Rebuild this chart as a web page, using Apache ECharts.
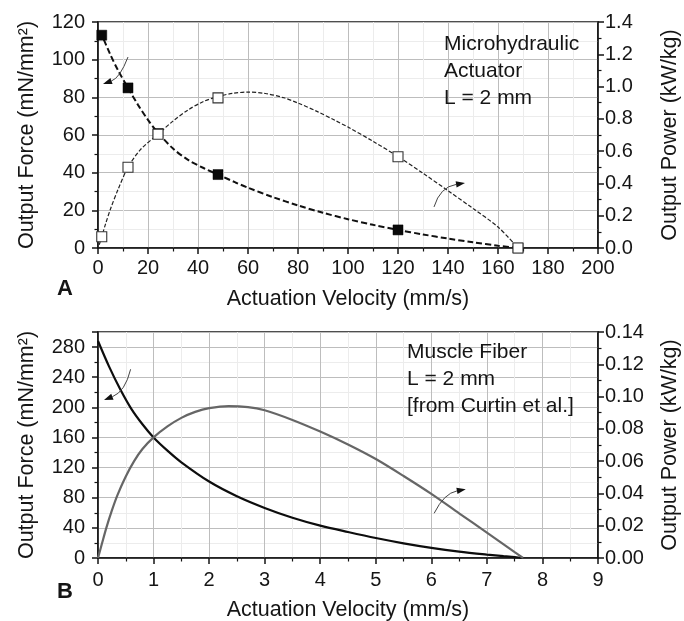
<!DOCTYPE html>
<html><head><meta charset="utf-8">
<script src="https://cdn.jsdelivr.net/npm/echarts@6/dist/echarts.min.js"></script>
<style>html,body{margin:0;padding:0;background:#fff}#c{width:684px;height:621px}</style>
</head><body><div id="c"></div>
<script>
// ---------- Panel A: microhydraulic actuator ----------
const velA = [1.5, 12, 24, 48, 120, 168];                 // mm/s (measured points)
const forceA = [113, 85, 60.8, 39, 9.6, 0];               // mN/mm^2
const powerA = [0.07, 0.50, 0.705, 0.93, 0.565, 0];       // kW/kg
// fitted curves
const fitVelForceA = [1, 1.5, 5, 8, 12, 16, 20, 24, 30, 36, 42, 48, 55, 60, 70, 80, 90, 100, 110, 120, 130, 140, 150, 160, 168];
const fitForceA    = [115, 113.3, 102.5, 94.4, 85, 76, 68, 61.2, 52.8, 46.8, 42.6, 39, 34.8, 32, 27, 22.6, 18.7, 15.3, 12.3, 9.6, 7.2, 5.0, 3.0, 1.2, 0];
const fitVelPowerA = [0.5, 1.5, 3, 5, 8, 12, 17, 24, 30, 36, 42, 48, 54, 60, 67, 74, 80, 88, 95, 100, 110, 120, 130, 140, 150, 160, 168];
const fitPowerA    = [0.02, 0.07, 0.148, 0.242, 0.362, 0.50, 0.61, 0.705, 0.786, 0.855, 0.906, 0.939, 0.958, 0.966, 0.957, 0.932, 0.898, 0.843, 0.789, 0.749, 0.661, 0.566, 0.463, 0.355, 0.245, 0.13, 0];
// ---------- Panel B: muscle fiber ----------
const velForceB = [0, 0.2, 0.4, 0.6, 0.8, 1, 1.25, 1.5, 2, 2.5, 3, 3.5, 4, 4.5, 5, 5.5, 6, 6.5, 7, 7.3, 7.5, 7.65];
const forceB    = [288, 254, 224, 198, 177.5, 160, 142.5, 127, 101.5, 82, 66.5, 53.5, 43, 34.5, 26.5, 19.5, 13.5, 8.5, 4.5, 2.4, 1.1, 0];
const velPowerB = [0, 0.07, 0.15, 0.25, 0.35, 0.5, 0.65, 0.8, 1, 1.25, 1.5, 1.75, 2, 2.35, 2.7, 3, 3.5, 4, 4.5, 5, 5.5, 6, 6.5, 7, 7.5, 7.65];
const powerB    = [0, 0.0088, 0.0187, 0.0295, 0.039, 0.0505, 0.060, 0.0675, 0.0747, 0.0815, 0.0868, 0.0905, 0.0928, 0.0941, 0.0935, 0.0915, 0.0855, 0.0783, 0.0703, 0.0613, 0.0508, 0.0397, 0.0277, 0.0157, 0.0036, 0];
// ticks
const xTicksA = {min: 0, max: 200, interval: 20};
const yLeftA  = {min: 0, max: 120, interval: 20};
const yRightA = {min: 0, max: 1.4, interval: 0.2};
const xTicksB = {min: 0, max: 9, interval: 1};
const yLeftB  = {min: 0, max: 300, interval: 40};
const yRightB = {min: 0, max: 0.14, interval: 0.02};
const labelsA = ['Microhydraulic', 'Actuator', 'L = 2 mm'];
const labelsB = ['Muscle Fiber', 'L = 2 mm', '[from Curtin et al.]'];

const zip = (a, b) => a.map((v, i) => [v, b[i]]);
const FONT = 'Liberation Sans, Arial, sans-serif';
const ink = '#151515';

function axisCommon(extra) {
  return Object.assign({
    axisLine: {show: true, onZero: false, lineStyle: {color: ink, width: 1.6}},
    axisTick: {show: true, inside: false, length: 6, lineStyle: {color: ink, width: 1.5}},
    minorTick: {show: true, splitNumber: 2, length: 3.5, lineStyle: {color: ink, width: 1.2}},
    axisLabel: {color: ink, fontSize: 20, fontFamily: FONT},
    nameTextStyle: {color: ink, fontSize: 21.5, fontFamily: FONT},
    nameLocation: 'middle'
  }, extra);
}
const gridLines = {
  splitLine: {show: true, lineStyle: {color: '#bdbdbd', width: 1}},
  minorSplitLine: {show: true, lineStyle: {color: '#ececec', width: 1}}
};
const gridBase = {left: 98, width: 500, height: 226, show: true, borderColor: ink, borderWidth: 1.6,
  backgroundColor: 'transparent', containLabel: false, outerBoundsMode: 'none'};

const option = {
  animation: false,
  backgroundColor: '#fff',
  grid: [
    Object.assign({top: 22}, gridBase),
    Object.assign({top: 332}, gridBase)
  ],
  xAxis: [
    axisCommon(Object.assign({type: 'value', gridIndex: 0, name: 'Actuation Velocity (mm/s)', nameGap: 40,
      axisLabel: {color: ink, fontSize: 20, fontFamily: FONT, margin: 10}}, xTicksA, gridLines)),
    axisCommon(Object.assign({type: 'value', gridIndex: 1, name: 'Actuation Velocity (mm/s)', nameGap: 41,
      axisLabel: {color: ink, fontSize: 20, fontFamily: FONT, margin: 12}}, xTicksB, gridLines))
  ],
  yAxis: [
    axisCommon(Object.assign({type: 'value', gridIndex: 0, position: 'left', name: 'Output Force (mN/mm²)', nameGap: 60, nameRotate: 90,
      axisLabel: {color: ink, fontSize: 20, fontFamily: FONT, margin: 13}}, yLeftA, gridLines)),
    axisCommon(Object.assign({type: 'value', gridIndex: 0, position: 'right', name: 'Output Power (kW/kg)', nameGap: 61, nameRotate: 90,
      splitLine: {show: false}, minorSplitLine: {show: false},
      axisLabel: {color: ink, fontSize: 20, fontFamily: FONT, margin: 7, formatter: v => v.toFixed(1)}}, yRightA)),
    axisCommon(Object.assign({type: 'value', gridIndex: 1, position: 'left', name: 'Output Force (mN/mm²)', nameGap: 60, nameRotate: 90,
      axisLabel: {color: ink, fontSize: 20, fontFamily: FONT, margin: 13, showMaxLabel: false,
        formatter: v => (v > 290 ? '' : String(v))}}, yLeftB, gridLines)),
    axisCommon(Object.assign({type: 'value', gridIndex: 1, position: 'right', name: 'Output Power (kW/kg)', nameGap: 61, nameRotate: 90,
      splitLine: {show: false}, minorSplitLine: {show: false},
      axisLabel: {color: ink, fontSize: 20, fontFamily: FONT, margin: 7, formatter: v => v.toFixed(2)}}, yRightB))
  ],
  series: [
    {type: 'line', xAxisIndex: 0, yAxisIndex: 0, data: zip(fitVelForceA, fitForceA), showSymbol: false, smooth: 0.3,
      lineStyle: {color: '#111', width: 2, type: [6, 3]}, z: 3},
    {type: 'line', xAxisIndex: 0, yAxisIndex: 1, data: zip(fitVelPowerA, fitPowerA), showSymbol: false, smooth: 0.3,
      lineStyle: {color: '#222', width: 1.2, type: [4, 2]}, z: 3},
    {type: 'scatter', xAxisIndex: 0, yAxisIndex: 0, data: zip(velA, forceA), symbol: 'rect', symbolSize: 10, clip: false,
      itemStyle: {color: '#0a0a0a', borderColor: '#000', borderWidth: 0.5, opacity: 1}, z: 5},
    {type: 'scatter', xAxisIndex: 0, yAxisIndex: 1, data: zip(velA, powerA), symbol: 'rect', symbolSize: 10, clip: false,
      itemStyle: {color: '#fff', borderColor: '#333', borderWidth: 1.1, opacity: 1}, z: 6},
    {type: 'line', xAxisIndex: 1, yAxisIndex: 2, data: zip(velForceB, forceB), showSymbol: false, smooth: 0.3,
      lineStyle: {color: '#0d0d0d', width: 2.2}, z: 3},
    {type: 'line', xAxisIndex: 1, yAxisIndex: 3, data: zip(velPowerB, powerB), showSymbol: false, smooth: 0.3,
      lineStyle: {color: '#666', width: 2.2}, z: 3}
  ],
  graphic: [
    {type: 'text', left: 444, top: 31, z: 10, style: {text: labelsA.join('\n'), font: '21px ' + FONT, lineHeight: 27, fill: ink}},
    {type: 'text', left: 407, top: 339, z: 10, style: {text: labelsB.join('\n'), font: '21px ' + FONT, lineHeight: 27, fill: ink}},
    {type: 'text', left: 57, top: 278, z: 10, style: {text: 'A', font: 'bold 22px ' + FONT, fill: ink}},
    {type: 'text', left: 57, top: 581, z: 10, style: {text: 'B', font: 'bold 22px ' + FONT, fill: ink}}
  ]
};

const chart = echarts.init(document.getElementById('c'), null, {renderer: 'canvas'});
chart.setOption(option);

// curved annotation arrows, defined in data coordinates: [start, control, tip]
const arrowDefs = [
  {x: 0, y: 0, pts: [[12, 101.4], [8.8, 90.3], [2, 87.1]]},
  {x: 0, y: 0, pts: [[134.4, 21.8], [136.8, 32.4], [146.8, 34.5]]},
  {x: 1, y: 2, pts: [[0.587, 250.5], [0.49, 220.8], [0.108, 209.7]]},
  {x: 1, y: 2, pts: [[6.05, 59.3], [6.23, 85.9], [6.62, 91.2]]}
];
const extra = [];
arrowDefs.forEach(d => {
  const p = d.pts.map(pt => chart.convertToPixel({xAxisIndex: d.x, yAxisIndex: d.y}, pt));
  const [p0, pc, p1] = p;
  const dx = p1[0] - pc[0], dy = p1[1] - pc[1];
  const L = Math.hypot(dx, dy), ux = dx / L, uy = dy / L;
  const len = 9, w = 3.2;
  const base = [p1[0] - ux * len, p1[1] - uy * len];
  extra.push({type: 'bezierCurve', z: 10, silent: true,
    shape: {x1: p0[0], y1: p0[1], cpx1: pc[0], cpy1: pc[1], x2: base[0], y2: base[1]},
    style: {stroke: '#444', lineWidth: 1, fill: null}});
  extra.push({type: 'polygon', z: 10, silent: true,
    shape: {points: [p1, [base[0] - uy * w, base[1] + ux * w], [base[0] + uy * w, base[1] - ux * w]]},
    style: {fill: '#111'}});
});
chart.setOption({graphic: option.graphic.concat(extra)});
</script></body></html>
